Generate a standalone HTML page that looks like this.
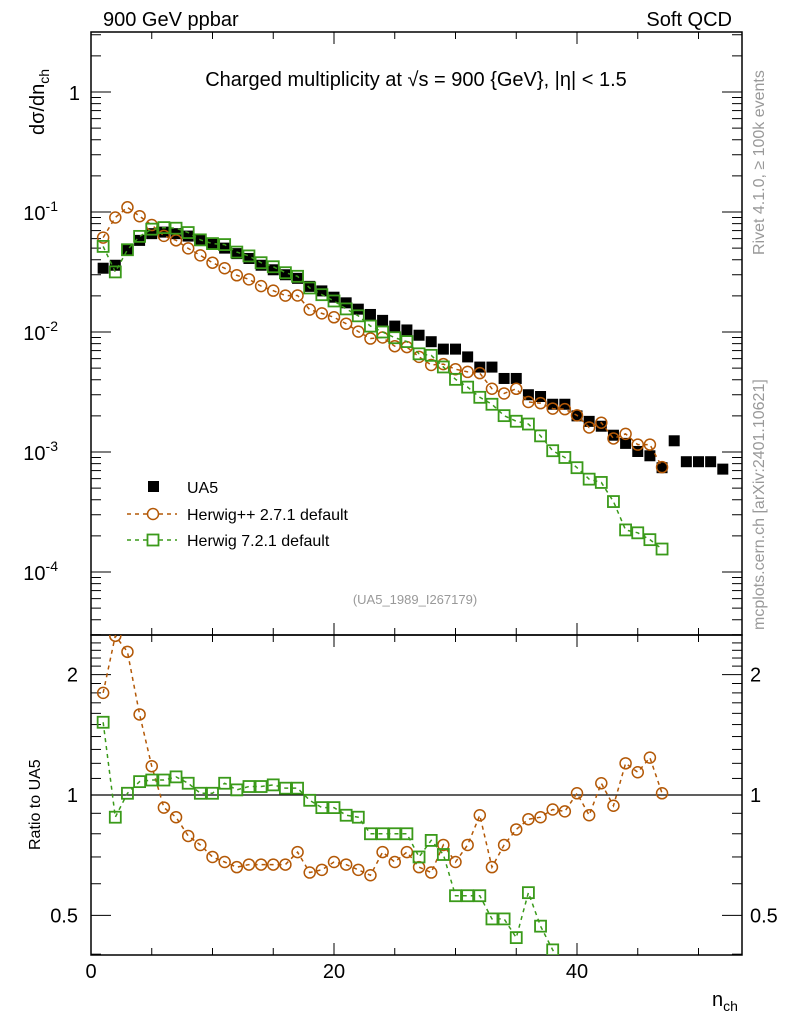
<!DOCTYPE html>
<html><head><meta charset="utf-8"><style>
html,body{margin:0;padding:0;background:#fff;width:786px;height:1024px;overflow:hidden;}
svg{display:block;font-family:"Liberation Sans",sans-serif;}
</style></head><body>
<svg id="c" width="786" height="1024" viewBox="0 0 786 1024">
<text x="103" y="26" font-size="20">900 GeV ppbar</text>
<text x="732" y="26" font-size="20" text-anchor="end">Soft QCD</text>
<text x="416" y="86" font-size="20" text-anchor="middle">Charged multiplicity at √s = 900 {GeV}, |η| &lt; 1.5</text>
<text transform="translate(764,255) rotate(-90)" font-size="16" fill="#999">Rivet 4.1.0, ≥ 100k events</text>
<text transform="translate(764,630) rotate(-90)" font-size="16" fill="#999">mcplots.cern.ch [arXiv:2401.10621]</text>
<text transform="translate(44,135) rotate(-90)" font-size="20">dσ/dn<tspan font-size="14" dy="5">ch</tspan></text>
<text transform="translate(40,850) rotate(-90)" font-size="16">Ratio to UA5</text>
<text x="712" y="1006" font-size="20">n<tspan font-size="14" dy="5">ch</tspan></text>
<text x="415" y="604" font-size="13" fill="#999" text-anchor="middle">(UA5_1989_I267179)</text>
<g id="g"></g>
</svg>
<script>
const nch=[1,2,3,4,5,6,7,8,9,10,11,12,13,14,15,16,17,18,19,20,21,22,23,24,25,26,27,28,29,30,31,32,33,34,35,36,37,38,39,40,41,42,43,44,45,46,47,48,49,50,51,52];
const ua5=[0.034,0.036,0.048,0.058,0.066,0.068,0.066,0.063,0.058,0.054,0.050,0.045,0.041,0.036,0.033,0.030,0.028,0.024,0.022,0.0195,0.0175,0.0155,0.0140,0.0125,0.0112,0.0104,0.0094,0.0083,0.0072,0.0072,0.0062,0.0051,0.0051,0.0041,0.0041,0.0030,0.0029,0.0025,0.0025,0.0020,0.0018,0.00164,0.00138,0.00118,0.00101,0.00093,0.00074,0.00124,0.00083,0.00083,0.00083,0.00072];
const ratioHpp=[1.80,2.5,2.28,1.59,1.18,0.93,0.88,0.79,0.75,0.70,0.68,0.66,0.67,0.67,0.67,0.67,0.72,0.64,0.65,0.68,0.67,0.65,0.63,0.72,0.68,0.72,0.66,0.64,0.75,0.68,0.75,0.89,0.66,0.75,0.82,0.87,0.88,0.92,0.91,1.01,0.89,1.07,0.94,1.20,1.14,1.24,1.01];
const ratioH7=[1.52,0.88,1.01,1.08,1.09,1.09,1.11,1.07,1.01,1.01,1.07,1.03,1.05,1.05,1.06,1.04,1.04,0.97,0.93,0.93,0.89,0.88,0.80,0.80,0.80,0.80,0.70,0.77,0.71,0.56,0.56,0.56,0.49,0.49,0.44,0.57,0.47,0.41,0.36,0.37,0.33,0.34,0.28,0.19,0.21,0.20,0.21];
const yExps=["","-1","-2","-3","-4"];
const xTickLabels=["0","20","40"];
const ratioTickLabels=["0.5","1","2"];

const NS="http://www.w3.org/2000/svg";
const g=document.getElementById('g');
const L=91,R=742,T=32,B=635,RB=955;
const ORANGE="#b35806",GREEN="#3a9a1a";
function X(v){return L+v*12.15;}
function Y(v){return 92-Math.log10(v)*120;}
function RY(v){return 795-Math.log10(v)*400;}
function mk(tag,at,parent){const e=document.createElementNS(NS,tag);for(const k in at)e.setAttribute(k,at[k]);(parent||g).appendChild(e);return e;}

let f=mk('rect',{x:L,y:T,width:R-L,height:B-T,fill:'none',stroke:'#000','stroke-width':1.5});


f=mk('rect',{x:L,y:B,width:R-L,height:RB-B,fill:'none',stroke:'#000','stroke-width':1.5});



for(let v=0;v<=53;v+=5){
  const maj=v%20===0, len=maj?12:7;
  for(const [y0,d] of [[T,1],[B,-1],[B,1],[RB,-1]]){
    mk('line',{x1:X(v),x2:X(v),y1:y0,y2:y0+d*len,stroke:'#000','stroke-width':1});
  }
}
xTickLabels.forEach(s=>{const t=mk('text',{x:X(+s),y:978,'font-size':20,'text-anchor':'middle'});t.textContent=s;

});

for(let e=-5;e<=0;e++){
  for(let m=1;m<10;m++){
    const v=m*Math.pow(10,e);const y=Y(v);if(y<T||y>B)continue;
    const len=m===1?20:10;
    mk('line',{x1:L,x2:L+len,y1:y,y2:y,stroke:'#000'});
    mk('line',{x1:R,x2:R-len,y1:y,y2:y,stroke:'#000'});
  }
}
yExps.forEach((ex,i)=>{
  const y=Y(Math.pow(10,-i));
  const t=mk('text',{x:ex?68:80,y:y+8,'font-size':20,'text-anchor':'end'});
  
  
  if(!ex)t.textContent="1";else{t.setAttribute('x',58);t.textContent="10";const s=mk('tspan',{'font-size':14,dy:-9},t);s.textContent=ex;}
});
for(let v=0.4;v<=2.5;v+=0.1){
  const y=RY(v);if(y<B||y>RB)continue;
  const maj=Math.abs(v-0.5)<1e-6||Math.abs(v-1)<1e-6||Math.abs(v-2)<1e-6;
  const len=maj?20:10;
  mk('line',{x1:L,x2:L+len,y1:y,y2:y,stroke:'#000'});
  mk('line',{x1:R,x2:R-len,y1:y,y2:y,stroke:'#000'});
}
ratioTickLabels.forEach(s=>{
  const y=RY(+s)+7;
  let t=mk('text',{x:78,y:y,'font-size':20,'text-anchor':'end'});t.textContent=s;
  
  
  t=mk('text',{x:750,y:y,'font-size':20});t.textContent=s;
  
  
});
let ln=mk('line',{x1:L,x2:R,y1:RY(1),y2:RY(1),stroke:'#000','stroke-width':1.2});



const defs=mk('defs',{});
const c1=mk('clipPath',{id:'cm'},defs);mk('rect',{x:L,y:T,width:R-L,height:B-T},c1);
const c2=mk('clipPath',{id:'cr'},defs);mk('rect',{x:L,y:B,width:R-L,height:RB-B},c2);
const gm=mk('g',{'clip-path':'url(#cm)'});
const gr=mk('g',{'clip-path':'url(#cr)'});

nch.forEach((n,i)=>{
  const r=mk('rect',{x:X(n)-5.5,y:Y(ua5[i])-5.5,width:11,height:11,fill:'#000'},gm);
  
  
});

function series(ratios,color,shape,name){
  const ptsM=[],ptsR=[];
  ratios.forEach((r,i)=>{const v=r*ua5[i];ptsM.push([X(nch[i]),Y(v)]);ptsR.push([X(nch[i]),RY(r)]);});
  for(const [pts,par,tag] of [[ptsM,gm,'main'],[ptsR,gr,'ratio']]){
    const p=mk('polyline',{points:pts.map(p=>p.join(',')).join(' '),fill:'none',stroke:color,'stroke-width':1.5,'stroke-dasharray':'4,4'},par);
    
    
    pts.forEach(([x,y])=>{
      let m;
      if(shape==='c')m=mk('circle',{cx:x,cy:y,r:5.5,fill:'none',stroke:color,'stroke-width':1.5},par);
      else m=mk('rect',{x:x-5.5,y:y-5.5,width:11,height:11,fill:'none',stroke:color,'stroke-width':1.8},par);
      
      
    });
  }
}
series(ratioHpp,ORANGE,'c','herwigpp');
series(ratioH7,GREEN,'s','herwig7');

const lg=mk('g',{});


mk('rect',{x:148,y:481,width:11,height:11,fill:'#000'},lg);
let t=mk('text',{x:187,y:493,'font-size':16},lg);t.textContent="UA5";
mk('line',{x1:127,x2:177,y1:514,y2:514,stroke:ORANGE,'stroke-width':1.5,'stroke-dasharray':'4,4'},lg);
mk('circle',{cx:153,cy:514,r:5.5,fill:'#fff',stroke:ORANGE,'stroke-width':1.5},lg);
t=mk('text',{x:187,y:520,'font-size':16},lg);t.textContent="Herwig++ 2.7.1 default";
mk('line',{x1:127,x2:177,y1:540,y2:540,stroke:GREEN,'stroke-width':1.5,'stroke-dasharray':'4,4'},lg);
mk('rect',{x:147.5,y:534.5,width:11,height:11,fill:'#fff',stroke:GREEN,'stroke-width':1.8},lg);
t=mk('text',{x:187,y:546,'font-size':16},lg);t.textContent="Herwig 7.2.1 default";
</script>
</body></html>
